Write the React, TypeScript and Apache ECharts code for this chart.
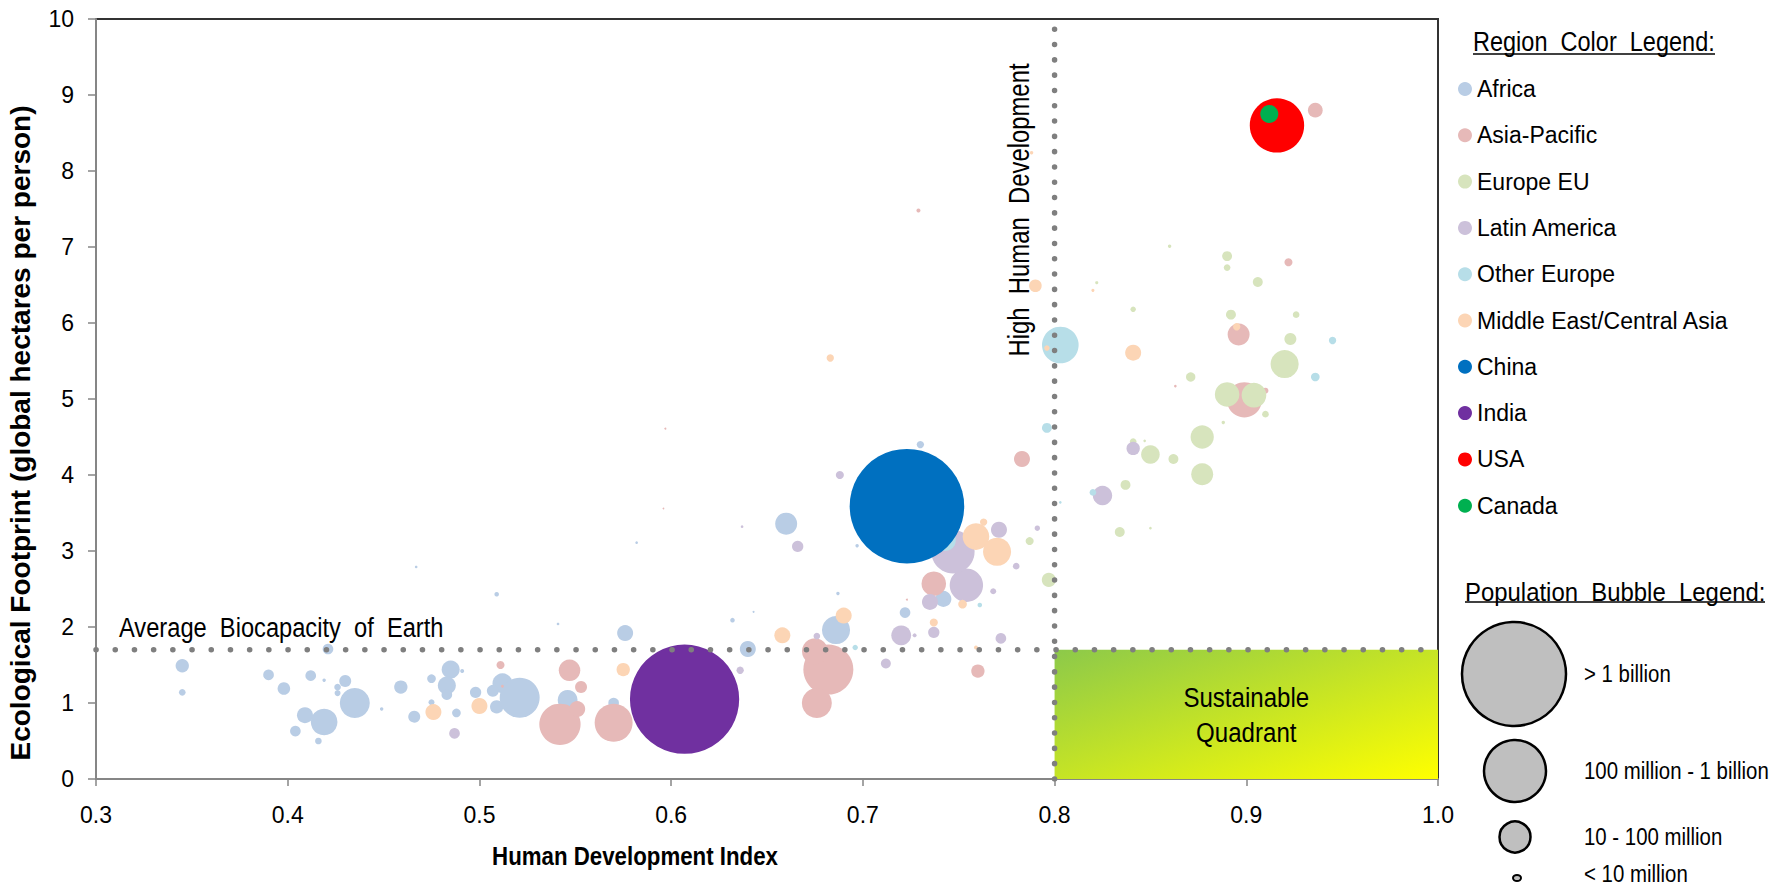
import React, { useEffect, useRef } from "react";
import * as echarts from "echarts";

const REG = "'Liberation Sans',Arial,sans-serif";

const regionNames = [
  "Africa",
  "Asia-Pacific",
  "Europe EU",
  "Latin America",
  "Other Europe",
  "Middle East/Central Asia",
  "China",
  "India",
  "USA",
  "Canada",
];
const regionColors = [
  "#b9cde5",
  "#e6b9b8",
  "#d7e4bd",
  "#ccc1da",
  "#b7dee8",
  "#fcd5b5",
  "#0070c0",
  "#7030a0",
  "#ff0000",
  "#00b050",
];

// [Human Development Index, Ecological Footprint (gha/person), population (millions)]
const africa = [
  [0.345, 1.49, 18], [0.345, 1.14, 4.5], [0.39, 1.37, 11.5], [0.398, 1.19, 16],
  [0.412, 1.36, 11.5], [0.419, 1.3, 1.2], [0.409, 0.84, 26], [0.404, 0.63, 11.5],
  [0.419, 0.75, 72], [0.416, 0.5, 4.5], [0.421, 1.71, 11.5], [0.43, 1.29, 14.6],
  [0.426, 1.21, 4.5], [0.426, 1.13, 3.6], [0.435, 1.0, 91], [0.449, 0.92, 1.2],
  [0.459, 1.21, 18], [0.466, 0.82, 14.6], [0.467, 2.79, 0.7], [0.475, 1.32, 7.6],
  [0.475, 1.01, 3.6], [0.485, 1.44, 33], [0.483, 1.23, 33], [0.483, 1.11, 11.5],
  [0.491, 1.42, 1.6], [0.488, 0.87, 7.6], [0.498, 1.14, 13], [0.509, 2.43, 2.1],
  [0.512, 1.26, 40], [0.507, 1.16, 14.6], [0.509, 0.95, 18], [0.521, 1.07, 162],
  [0.541, 2.04, 0.7], [0.546, 1.04, 40], [0.57, 1.0, 11.5], [0.576, 1.92, 26],
  [0.582, 3.11, 0.7], [0.632, 2.09, 2.1], [0.643, 2.2, 0.4], [0.64, 1.71, 26],
  [0.66, 3.36, 49], [0.686, 1.96, 80], [0.687, 2.44, 1.2], [0.697, 3.07, 1.2],
  [0.722, 2.19, 11.5], [0.73, 4.4, 5.5], [0.742, 2.37, 26],
];
const asiaPacific = [
  [0.511, 1.5, 6.5], [0.512, 1.22, 0.8], [0.547, 1.43, 47], [0.553, 1.21, 14.6],
  [0.542, 0.72, 173], [0.551, 0.92, 26], [0.57, 0.74, 146], [0.597, 4.61, 0.4],
  [0.596, 3.56, 0.3], [0.682, 1.44, 253], [0.675, 1.68, 68], [0.676, 1.0, 91],
  [0.737, 2.57, 61], [0.76, 1.42, 18], [0.783, 4.21, 26], [0.729, 7.48, 1.6],
  [0.936, 8.8, 22], [0.922, 6.8, 6.5], [0.896, 5.85, 49], [0.899, 4.99, 126],
  [0.91, 5.11, 3.6], [0.863, 5.17, 0.7], [0.723, 2.36, 0.4],
];
const europeEU = [
  [0.787, 3.13, 6.5], [0.797, 2.62, 20], [0.822, 6.53, 1], [0.86, 7.01, 1.2],
  [0.89, 6.88, 10], [0.89, 6.73, 4.5], [0.906, 6.54, 10], [0.841, 6.18, 3],
  [0.892, 6.11, 10], [0.926, 6.11, 4.5], [0.923, 5.79, 14.6], [0.92, 5.46, 80],
  [0.871, 5.29, 9], [0.89, 5.06, 61], [0.904, 5.05, 62], [0.91, 4.8, 4.5],
  [0.888, 4.69, 1.2], [0.877, 4.5, 55], [0.877, 4.01, 49], [0.85, 4.27, 35],
  [0.862, 4.21, 10], [0.841, 4.44, 4.5], [0.847, 4.45, 0.7], [0.837, 3.87, 10],
  [0.834, 3.25, 10], [0.85, 3.3, 0.7],
];
const latinAmerica = [
  [0.487, 0.6, 11.5], [0.637, 3.32, 0.7], [0.666, 3.06, 13], [0.688, 4.0, 6.5],
  [0.754, 2.55, 113], [0.747, 2.99, 190], [0.735, 2.33, 26], [0.768, 2.47, 3.6],
  [0.737, 1.93, 13], [0.72, 1.89, 40], [0.727, 1.89, 1.6], [0.712, 1.52, 10],
  [0.676, 1.88, 4.5], [0.636, 1.43, 5.5], [0.771, 3.28, 26], [0.791, 3.3, 3],
  [0.78, 2.8, 4.5], [0.772, 1.85, 11.5], [0.841, 4.35, 18], [0.825, 3.73, 38],
];
const otherEurope = [
  [0.743, 3.14, 45], [0.803, 5.71, 136], [0.796, 4.62, 10], [0.803, 3.64, 0.7],
  [0.82, 3.77, 4.5], [0.945, 5.77, 5.5], [0.936, 5.29, 7.6], [0.761, 2.29, 2.1],
  [0.696, 1.73, 3],
];
const middleEast = [
  [0.476, 0.88, 26], [0.5, 0.96, 26], [0.575, 1.44, 18], [0.658, 1.89, 26],
  [0.69, 2.15, 26], [0.737, 2.06, 6.5], [0.752, 2.3, 7.6], [0.759, 3.19, 72],
  [0.763, 3.38, 5.5], [0.77, 2.99, 80], [0.759, 1.73, 1.6], [0.683, 5.54, 5.5],
  [0.79, 6.49, 16], [0.796, 5.67, 3], [0.82, 6.43, 1], [0.788, 8.24, 1.2],
  [0.841, 5.61, 26], [0.895, 5.95, 5.5],
];
const china = [[0.723, 3.59, 1330]];
const india = [[0.607, 1.05, 1210]];
const usa = [[0.916, 8.6, 300]];
const canada = [[0.912, 8.75, 33]];

const regionData = [africa, asiaPacific, europeEU, latinAmerica, otherEurope, middleEast, china, india, usa, canada];

const biocapacity = 1.7;
const highHdi = 0.8;
const xMin = 0.3;
const xMax = 1.0;
const yMin = 0;
const yMax = 10;

const bubbleLegend = [
  { label: "> 1 billion", cx: 1514, cy: 674, r: 52, ty: 674 },
  { label: "100 million - 1 billion", cx: 1515, cy: 771, r: 31, ty: 771 },
  { label: "10 - 100 million", cx: 1515, cy: 837, r: 15.5, ty: 837 },
  { label: "< 10 million", cx: 1517, cy: 878, r: 4, ty: 874 },
];

function txt(
  text: string,
  x: number,
  y: number,
  font: string,
  scaleX: number,
  align: string = "left",
  rotation: number = 0
) {
  return {
    type: "text",
    x,
    y,
    rotation,
    scaleX,
    scaleY: 1,
    style: { text, font, fill: "#000", align, verticalAlign: "middle" },
  };
}

export default function App() {
  const ref = useRef<HTMLDivElement>(null);
  useEffect(() => {
    if (!ref.current) return;
    const chart = echarts.init(ref.current, undefined, { renderer: "svg" });
    const axisGrey = "#868686";

    const bubbleSeries = regionNames.map((name, i) => ({
      type: "scatter",
      name,
      data: regionData[i],
      symbol: "circle",
      symbolSize: (v: number[]) => 3.14 * Math.sqrt(v[2]),
      itemStyle: { color: regionColors[i], opacity: 1 },
      z: 3,
      silent: true,
    }));

    const option: any = {
      animation: false,
      backgroundColor: "#ffffff",
      grid: {
        left: 96,
        right: 349,
        top: 19,
        bottom: 109,
        containLabel: false,
        show: true,
        borderColor: "#333333",
        borderWidth: 2,
        backgroundColor: "transparent",
      },
      xAxis: {
        type: "value",
        min: xMin,
        max: xMax,
        interval: 0.1,
        axisLine: { show: true, onZero: false, lineStyle: { color: axisGrey, width: 2 } },
        axisTick: { show: true, inside: false, length: 7, lineStyle: { color: axisGrey, width: 1.5 } },
        axisLabel: {
          margin: 24,
          fontFamily: REG,
          fontSize: 23,
          color: "#000",
          formatter: (v: number) => v.toFixed(1),
        },
        splitLine: { show: false },
      },
      yAxis: {
        type: "value",
        min: yMin,
        max: yMax,
        interval: 1,
        axisLine: { show: true, onZero: false, lineStyle: { color: axisGrey, width: 2 } },
        axisTick: { show: true, inside: false, length: 8, lineStyle: { color: axisGrey, width: 1.5 } },
        axisLabel: { margin: 22, fontFamily: REG, fontSize: 23, color: "#000" },
        splitLine: { show: false },
      },
      legend: {
        data: regionNames,
        orient: "vertical",
        left: 1458,
        top: 77.5,
        padding: 0,
        itemWidth: 14,
        itemHeight: 14,
        itemGap: 23.3,
        icon: "circle",
        selectedMode: false,
        textStyle: { fontFamily: REG, fontSize: 23, color: "#000" },
      },
      series: [
        {
          type: "scatter",
          name: "quadrant",
          data: [],
          z: 1,
          silent: true,
          markArea: {
            silent: true,
            itemStyle: {
              color: new echarts.graphic.LinearGradient(0, 0, 1, 1, [
                { offset: 0, color: "#8cc94a" },
                { offset: 1, color: "#ffff00" },
              ]),
            },
            label: { show: false },
            data: [[{ coord: [highHdi, yMin] }, { coord: [xMax, biocapacity] }]],
          },
        },
        ...bubbleSeries,
        {
          type: "line",
          name: "biocapacity",
          data: [[xMin, biocapacity], [xMax, biocapacity]],
          symbol: "none",
          z: 5,
          silent: true,
          lineStyle: { color: "#7f7f7f", width: 5.5, type: [0.1, 19.1], cap: "round" },
        },
        {
          type: "line",
          name: "highHdi",
          data: [[highHdi, yMin], [highHdi, yMax]],
          symbol: "none",
          z: 5,
          silent: true,
          lineStyle: { color: "#7f7f7f", width: 5.5, type: [0.1, 15.2], cap: "round" },
        },
      ],
    };
    chart.setOption(option);

    // centre of the sustainable quadrant, through the chart's own scales
    const qc = chart.convertToPixel({ gridIndex: 0 }, [(highHdi + xMax) / 2, (yMin + biocapacity) / 2]) as number[];

    const graphics: any[] = [
      txt("Ecological Footprint (global hectares per person)", 20, 433, `bold 28px ${REG}`, 1, "center", Math.PI / 2),
      txt("Human Development Index", 635, 856, `bold 26px ${REG}`, 0.857, "center"),
      txt("Average  Biocapacity  of  Earth", 119, 627, `27px ${REG}`, 0.877, "left"),
      txt("High  Human  Development", 1019, 210, `29px ${REG}`, 0.823, "center", Math.PI / 2),
      txt("Region  Color  Legend:", 1473, 41, `28px ${REG}`, 0.84, "left"),
      { type: "line", shape: { x1: 1473, y1: 54, x2: 1715, y2: 54 }, style: { stroke: "#000", lineWidth: 1.5 } },
      txt("Population  Bubble  Legend:", 1465, 592, `26px ${REG}`, 0.92, "left"),
      { type: "line", shape: { x1: 1465, y1: 602, x2: 1765, y2: 602 }, style: { stroke: "#000", lineWidth: 1.5 } },
      {
        type: "text",
        x: qc[0],
        y: qc[1],
        scaleX: 0.86,
        style: {
          text: "Sustainable\nQuadrant",
          font: `28px ${REG}`,
          lineHeight: 35,
          fill: "#000",
          align: "center",
          verticalAlign: "middle",
        },
        z: 10,
      },
    ];
    bubbleLegend.forEach((b, i) => {
      if (i === 3) {
        graphics.push({
          type: "ellipse",
          shape: { cx: b.cx, cy: b.cy, rx: 4, ry: 3 },
          style: { fill: "#bfbfbf", stroke: "#000", lineWidth: 2 },
        });
      } else {
        graphics.push({
          type: "circle",
          shape: { cx: b.cx, cy: b.cy, r: b.r },
          style: { fill: "#bfbfbf", stroke: "#000", lineWidth: 2.5 },
        });
      }
      graphics.push(txt(b.label, 1584, b.ty, `24px ${REG}`, 0.85, "left"));
    });
    chart.setOption({ graphic: graphics });

    return () => chart.dispose();
  }, []);

  return (
    <div
      ref={ref}
      style={{ position: "fixed", left: 0, top: 0, width: 1787, height: 888, background: "#fff" }}
    />
  );
}
